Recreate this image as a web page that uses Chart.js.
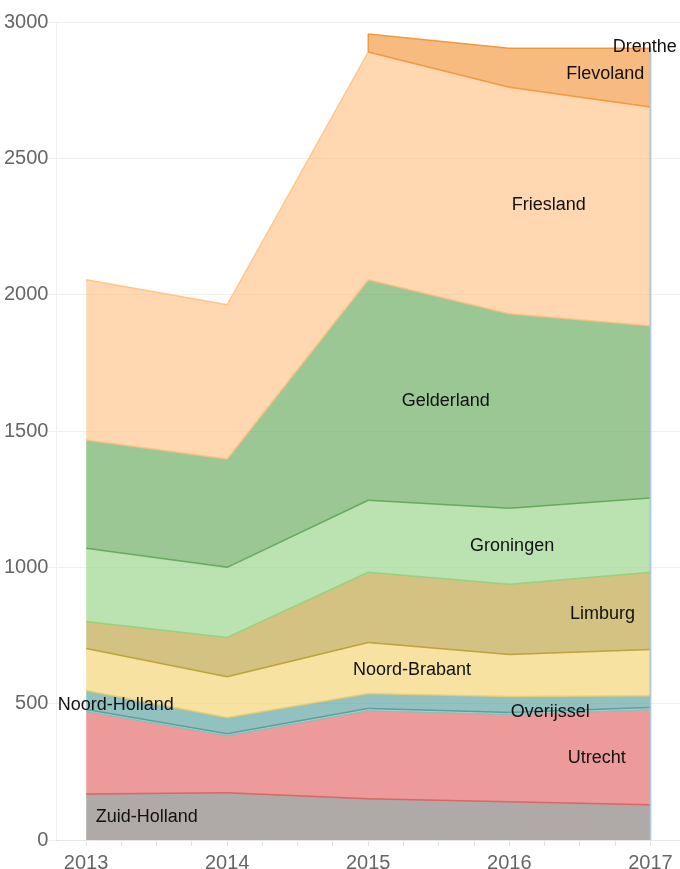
<!DOCTYPE html>
<html>
<head>
<meta charset="utf-8">
<script src="https://cdn.jsdelivr.net/npm/chart.js@4"></script>
<style>
  html, body { margin: 0; padding: 0; background: #fff; }
  #wrap { width: 680px; height: 869px; }
</style>
</head>
<body>
<div id="wrap"><canvas id="areaChart"></canvas></div>
<script>
// Years on the x axis and y tick values
const years = [2013, 2014, 2015, 2016, 2017];
const yTicks = [0, 500, 1000, 1500, 2000, 2500, 3000];

// Values per province, stack order bottom to top
const zuidHolland  = [169, 173, 151, 140, 129];
const utrecht      = [302, 209, 323, 320, 349];
const overijssel   = [8, 8, 8, 8, 8];
const noordHolland = [69, 59, 55, 58, 43];
const noordBrabant = [154, 150, 187, 154, 170];
const limburg      = [99, 144, 258, 258, 283];
const groningen    = [269, 257, 264, 279, 272];
const gelderland   = [397, 397, 809, 713, 632];
const friesland    = [588, 566, 835, 831, 802];
const flevoland    = [null, null, 66, 143, 216];
const drenthe      = [null, null, null, null, 6];

const names = ['Zuid-Holland', 'Utrecht', 'Overijssel', 'Noord-Holland', 'Noord-Brabant',
               'Limburg', 'Groningen', 'Gelderland', 'Friesland', 'Flevoland', 'Drenthe'];
const values = [zuidHolland, utrecht, overijssel, noordHolland, noordBrabant,
                limburg, groningen, gelderland, friesland, flevoland, drenthe];
const colors = ['#79706E', '#E15759', '#86BCB6', '#499894', '#F1CE63',
                '#B6992D', '#8CD17D', '#59A14F', '#FFBE7D', '#F28E2B', '#A0CBE8'];

// where each name is written (year along the band)
const labelAt = {
    'Zuid-Holland': 2013.43, 'Utrecht': 2016.62, 'Overijssel': 2016.29,
    'Noord-Holland': 2013.21, 'Noord-Brabant': 2015.31, 'Limburg': 2016.66,
    'Groningen': 2016.02, 'Gelderland': 2015.55, 'Friesland': 2016.28,
    'Flevoland': 2016.68, 'Drenthe': 2016.96
};

const FONT = "'Liberation Sans', Arial, sans-serif";

function rgba(hex, a) {
    const n = parseInt(hex.slice(1), 16);
    return `rgba(${n >> 16}, ${(n >> 8) & 255}, ${n & 255}, ${a})`;
}

const datasets = names.map((name, i) => ({
    label: name,
    data: values[i].map((v, j) => ({ x: years[j], y: v })),
    backgroundColor: rgba(colors[i], 0.6),
    borderWidth: 0,
    fill: i === 0 ? 'origin' : '-1',
    pointRadius: 0,
    tension: 0
}));

// stacked total up to and including series k at a (fractional) year
function cumAt(k, t) {
    const j = Math.min(Math.floor(t - years[0]), years.length - 2);
    const f = t - years[j];
    let lo = 0, hi = 0;
    for (let s = 0; s <= k; s++) {
        lo += values[s][j] || 0;
        hi += values[s][j + 1] || 0;
    }
    return lo + (hi - lo) * f;
}

// outlines: each boundary gets the colour of the band lying on top of it
const bandLines = {
    id: 'bandLines',
    afterDatasetsDraw(chart) {
        const { ctx, scales: { x, y } } = chart;
        ctx.save();
        ctx.lineWidth = 1.5;
        ctx.lineJoin = 'round';
        names.forEach((name, i) => {
            const pts = chart.getDatasetMeta(i).data;
            for (let j = 0; j < years.length - 1; j++) {
                if (values[i][j] == null || values[i][j + 1] == null) continue;
                let c = colors[i];
                for (let k = i + 1; k < values.length; k++) {
                    if (values[k][j] != null && values[k][j + 1] != null) { c = colors[k]; break; }
                }
                ctx.strokeStyle = rgba(c, 0.85);
                ctx.beginPath();
                ctx.moveTo(pts[j].x, pts[j].y);
                ctx.lineTo(pts[j + 1].x, pts[j + 1].y);
                ctx.stroke();
            }
            // left edge where a band begins
            for (let j = 1; j < years.length - 1; j++) {
                if (values[i][j - 1] == null && values[i][j] != null && values[i][j + 1] != null) {
                    ctx.strokeStyle = rgba(colors[i], 0.85);
                    ctx.beginPath();
                    ctx.moveTo(pts[j].x, pts[j].y);
                    ctx.lineTo(pts[j].x, y.getPixelForValue(cumAt(i - 1, years[j])));
                    ctx.stroke();
                }
            }
        });

        // light edge line at the last year
        const last = years[years.length - 1];
        ctx.strokeStyle = 'rgba(160, 190, 215, 0.8)';
        ctx.lineWidth = 2;
        ctx.beginPath();
        ctx.moveTo(x.getPixelForValue(last), y.getPixelForValue(0));
        ctx.lineTo(x.getPixelForValue(last), y.getPixelForValue(cumAt(values.length - 2, last)));
        ctx.stroke();

        ctx.font = `18px ${FONT}`;
        ctx.fillStyle = '#111';
        ctx.textAlign = 'center';
        ctx.textBaseline = 'middle';
        names.forEach((name, i) => {
            const t = labelAt[name];
            const top = cumAt(i, t);
            const bottom = i === 0 ? 0 : cumAt(i - 1, t);
            ctx.fillText(name, x.getPixelForValue(t), y.getPixelForValue((top + bottom) / 2));
        });
        ctx.restore();
    }
};

const quarterTicks = [];
for (let v = years[0]; v <= years[years.length - 1]; v += 0.25) quarterTicks.push(v);

new Chart(document.getElementById('areaChart'), {
    type: 'line',
    data: { datasets: datasets },
    options: {
        responsive: true,
        maintainAspectRatio: false,
        animation: false,
        layout: { padding: { top: 22, left: 4, right: 0, bottom: 0 } },
        plugins: {
            legend: { display: false },
            tooltip: { enabled: false }
        },
        scales: {
            x: {
                type: 'linear',
                min: 2012.79,
                max: 2017.21,
                afterBuildTicks: axis => { axis.ticks = quarterTicks.map(v => ({ value: v })); },
                afterFit: axis => { axis.height = 29; },
                grid: { drawOnChartArea: false, tickLength: 6, color: '#e3e3e3' },
                border: { color: '#e6e6e6' },
                ticks: {
                    autoSkip: false,
                    maxRotation: 0,
                    padding: 7,
                    color: '#666',
                    font: { size: 20, family: FONT, lineHeight: 1 },
                    callback: v => years.includes(v) ? String(v) : ''
                }
            },
            y: {
                stacked: true,
                min: yTicks[0],
                max: yTicks[yTicks.length - 1],
                afterBuildTicks: axis => { axis.ticks = yTicks.map(v => ({ value: v })); },
                grid: { color: 'rgba(0,0,0,0.06)', tickLength: 8 },
                border: { color: 'rgba(0,0,0,0.06)' },
                ticks: {
                    padding: 0,
                    color: '#666',
                    font: { size: 20, family: FONT },
                    callback: v => String(v)
                }
            }
        }
    },
    plugins: [bandLines]
});
</script>
</body>
</html>
